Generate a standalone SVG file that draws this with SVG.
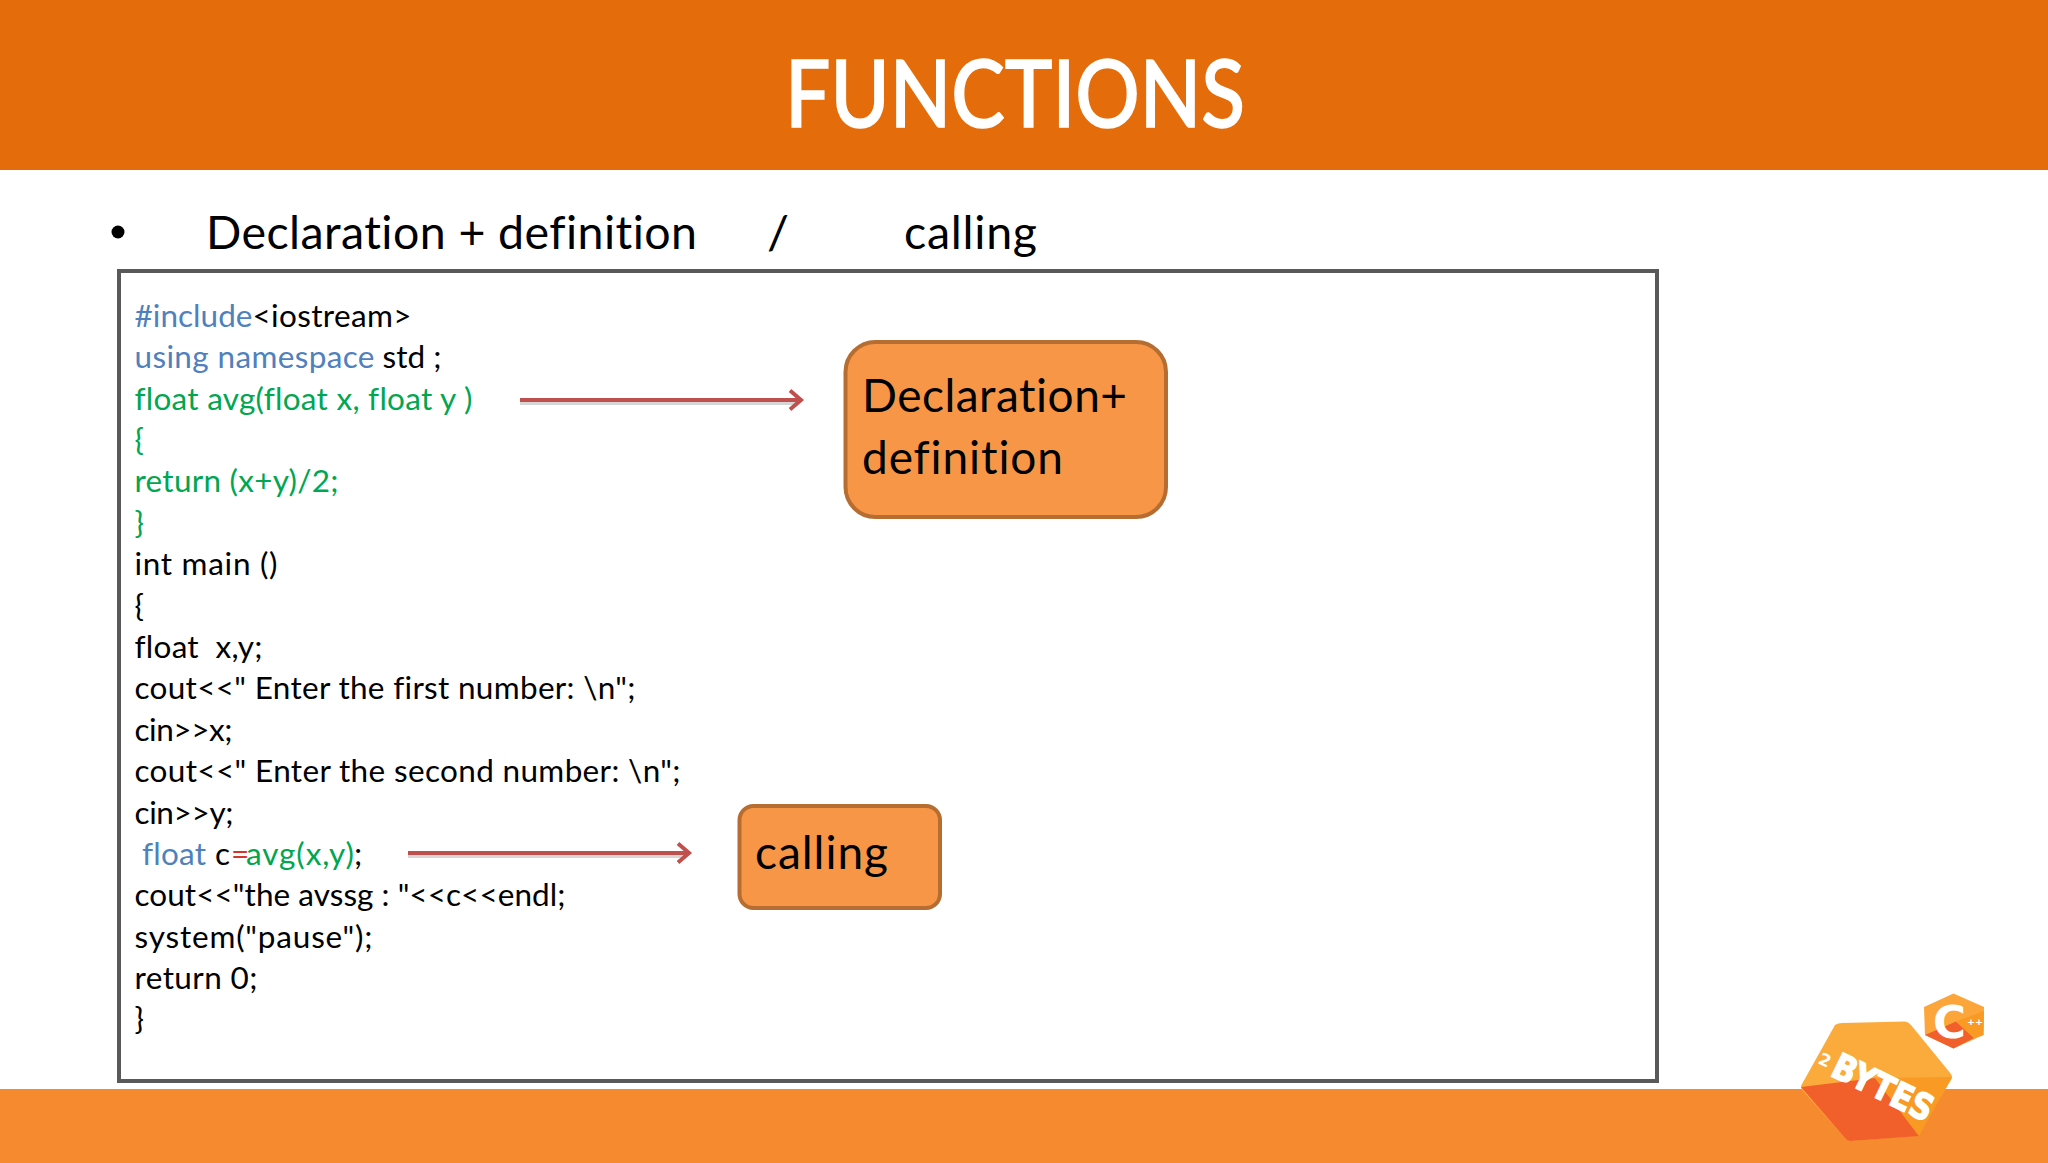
<svg xmlns="http://www.w3.org/2000/svg" width="2048" height="1163" viewBox="0 0 2048 1163">
<style>
text{font-family:"Lato","Carlito","Open Sans",sans-serif;fill:#000;font-variant-ligatures:none}
.code{font-size:31.5px}
.b{fill:#4F81BD}.g{fill:#00A650}.r{fill:#D9342B}
.sub{font-size:46.5px}
.node{fill:#F79646;stroke:#B66D31;stroke-width:4}
.lbl{font-size:46px}
.arr{stroke:#C0504D;stroke-width:4;fill:none;marker-end:url(#ah)}
.sh{stroke:#8a8a8a;stroke-opacity:.35;stroke-width:4;fill:none}
</style>
<defs>
<marker id="ah" markerUnits="userSpaceOnUse" markerWidth="24" markerHeight="26" refX="19" refY="13" orient="auto"><path d="M7 3.500 L18 13 L7 22.500" fill="none" stroke="#C0504D" stroke-width="4"/></marker>
</defs>
<rect width="2048" height="1163" fill="#fff"/>
<g id="header"><rect width="2048" height="170" fill="#E46C0A"/>
<text x="785" y="127" font-size="93" textLength="460" lengthAdjust="spacingAndGlyphs" style="fill:#fff;font-weight:500;stroke:#fff;stroke-width:1.5">FUNCTIONS</text></g>
<rect id="footer" y="1089" width="2048" height="74" fill="#F58A2E"/>
<g id="subtitle">
<circle cx="118" cy="232" r="6.5"/>
<text class="sub" x="206" y="249" textLength="491">Declaration + definition</text>
<text class="sub" x="767" y="249" textLength="22" lengthAdjust="spacingAndGlyphs">/</text>
<text class="sub" x="904" y="249" textLength="133">calling</text>
</g>
<g id="code">
<rect x="119" y="271" width="1538" height="810" fill="#fff" stroke="#595959" stroke-width="4"/>
<text class="code" x="134.500" y="327"><tspan class="b" textLength="118">#include</tspan><tspan x="252.500" textLength="159">&lt;iostream&gt;</tspan></text>
<text class="code" x="134.500" y="368"><tspan class="b" textLength="240">using namespace</tspan><tspan x="382.500" textLength="59">std ;</tspan></text>
<text class="code g" style="fill:#00A650" x="134.500" y="410" textLength="338">float avg(float x, float y )</text>
<text class="code" style="fill:#00A650" x="134.500" y="451">{</text>
<text class="code" style="fill:#00A650" x="134.500" y="492" textLength="204">return (x+y)/2;</text>
<text class="code" style="fill:#00A650" x="134.500" y="534">}</text>
<text class="code" x="134.500" y="575" textLength="143">int main ()</text>
<text class="code" x="134.500" y="617">{</text>
<text class="code" x="134.500" y="658" xml:space="preserve" textLength="128">float  x,y;</text>
<text class="code" x="134.500" y="699" textLength="501">cout&lt;&lt;" Enter the first number: \n";</text>
<text class="code" x="134.500" y="741" textLength="98">cin&gt;&gt;x;</text>
<text class="code" x="134.500" y="782" textLength="546">cout&lt;&lt;" Enter the second number: \n";</text>
<text class="code" x="134.500" y="824" textLength="99">cin&gt;&gt;y;</text>
<text class="code" x="142" y="865"><tspan class="b" textLength="64">float</tspan><tspan x="215">c</tspan><tspan class="r" x="231">=</tspan><tspan class="g" x="246" textLength="108">avg(x,y)</tspan><tspan x="354">;</tspan></text>
<text class="code" x="134.500" y="906" textLength="431">cout&lt;&lt;"the avssg : "&lt;&lt;c&lt;&lt;endl;</text>
<text class="code" x="134.500" y="948" textLength="238">system("pause");</text>
<text class="code" x="134.500" y="989" textLength="123">return 0;</text>
<text class="code" x="134.500" y="1030">}</text>
</g>
<g id="connectors">
<path class="sh" d="M520 403H797"/><path class="sh" d="M408 856H685"/>
<path class="arr" d="M520 400H802"/>
<path class="arr" d="M408 853H690"/>
</g>
<g id="node-declaration">
<rect class="node" x="845.500" y="342" width="320.500" height="175" rx="30"/>
<text class="lbl" x="862" y="412" textLength="265">Declaration+</text>
<text class="lbl" x="862" y="474" textLength="201">definition</text>
</g>
<g id="node-calling">
<rect class="node" x="739.500" y="806" width="200.500" height="102" rx="14"/>
<text class="lbl" x="755" y="869" textLength="133">calling</text>
</g>
<g id="logo">
<path d="M1835 1025Q1838 1023 1842 1023L1905 1021.500Q1909 1022 1911 1025L1951 1074Q1953 1077 1951 1080L1919 1133Q1917 1136 1914 1136L1850 1141Q1847 1141 1845 1138L1802 1090Q1800 1087 1802 1084Z" fill="#FBAB3C"/>
<path d="M1801 1087L1875 1078L1919 1136L1850 1141Q1847 1141 1845 1138Z" fill="#F15F2B"/>
<path d="M1875 1078L1952 1077L1919 1136Z" fill="#F89A23"/>
<text transform="translate(1817 1063) rotate(25)" style="fill:#fff;font-family:'DejaVu Sans',sans-serif;font-weight:bold" font-size="17">2</text>
<text transform="translate(1829 1075) rotate(26)" textLength="108" lengthAdjust="spacingAndGlyphs" style="fill:#fff;font-family:'DejaVu Sans',sans-serif;font-weight:bold;stroke:#fff;stroke-width:1.500" font-size="36">BYTES</text>
<path d="M1953.500 993.500L1984 1007L1983.500 1035L1953.500 1048.500L1925 1035L1924 1007Z" fill="#FBA53A"/>
<path d="M1925 1035L1956 1021.500L1974 1038L1953.500 1048.500Z" fill="#F15F2B"/>
<path d="M1956 1021.500L1984 1011L1983.500 1035L1974 1038Z" fill="#F89A23"/>
<text x="1933" y="1038" font-size="45" style="fill:#fff;font-family:'DejaVu Sans',sans-serif;font-weight:bold">C</text>
<text x="1967" y="1025" font-size="9.500" style="fill:#fff;font-family:'DejaVu Sans',sans-serif;font-weight:bold">++</text>
</g>
</svg>
